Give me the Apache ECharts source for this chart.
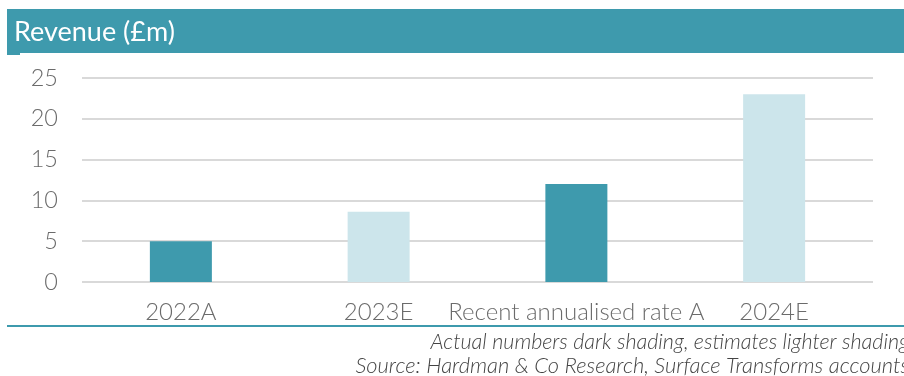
<!DOCTYPE html>
<html><head><meta charset="utf-8">
<script src="https://cdn.jsdelivr.net/npm/echarts@6/dist/echarts.min.js"></script>
<style>html,body{margin:0;padding:0;background:#fff}#c{width:904px;height:376px}</style>
</head><body><div id="c"></div>
<script>
const categories = ['2022A', '2023E', 'Recent annualised rate A', '2024E'];
const revenue = [5.0, 8.6, 12.0, 23.0];
const isActual = [true, false, true, false];
const yTicks = [0, 5, 10, 15, 20, 25];
const title = 'Revenue (£m)';
const note1 = 'Actual numbers dark shading, estimates lighter shading';
const note2 = 'Source: Hardman & Co Research, Surface Transforms accounts';

const DARK = '#3e9aad', LIGHT = '#cce5eb';
const chart = echarts.init(document.getElementById('c'), null, {renderer: 'canvas'});
chart.setOption({
  animation: false,
  grid: {left: 82, right: 31, top: 78, bottom: 94},
  xAxis: {
    type: 'category', data: categories,
    axisLine: {show: false}, axisTick: {show: false},
    axisLabel: {color: '#6b6b6b', fontFamily: 'Lato', fontWeight: 300, fontSize: 24, margin: 18, interval: 0}
  },
  yAxis: {
    type: 'value', min: yTicks[0], max: yTicks[yTicks.length - 1], interval: 5,
    axisLine: {show: false}, axisTick: {show: false},
    axisLabel: {color: '#6b6b6b', fontFamily: 'Lato', fontWeight: 300, fontSize: 23.5, margin: 24},
    splitLine: {lineStyle: {color: '#d9d9d9', width: 2}}
  },
  series: [{
    type: 'bar', barWidth: 62,
    data: revenue.map((v, i) => ({value: v, itemStyle: {color: isActual[i] ? DARK : LIGHT}}))
  }],
  graphic: [
    {type: 'rect', shape: {x: 7, y: 9, width: 897, height: 44}, style: {fill: '#3e9aad'}},
    {type: 'rect', shape: {x: 7, y: 53, width: 13, height: 2}, style: {fill: '#3e9aad'}},
    {type: 'text', left: 14, top: 19, style: {text: title, fill: '#fff', font: '27px Lato'}},
    {type: 'rect', shape: {x: 7, y: 325, width: 897, height: 2}, style: {fill: '#3e9aad'}},
    {type: 'text', right: -5, top: 331, style: {text: note1, fill: '#444', font: 'italic 300 21.5px Lato', textAlign: 'right'}},
    {type: 'text', right: -5, top: 355, style: {text: note2, fill: '#444', font: 'italic 300 21.9px Lato', textAlign: 'right'}}
  ]
});
</script></body></html>
